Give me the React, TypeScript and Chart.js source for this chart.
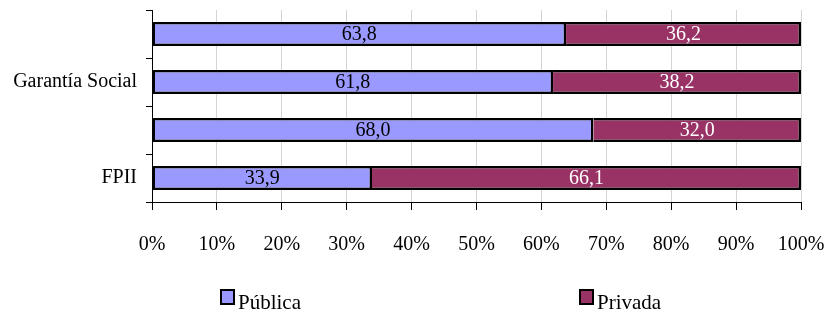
import React, { useEffect, useRef } from "react";
import { Chart, registerables } from "chart.js";

Chart.register(...registerables);

const categories = ["", "Garantía Social", "", "FPII"];
const publica = [63.8, 61.8, 68.0, 33.9];
const privada = [36.2, 38.2, 32.0, 66.1];
const seriesNames = ["Pública", "Privada"];
const seriesColors = ["#9999FF", "#993366"];
const labelColors = ["#000000", "#FFFFFF"];

const FONT = "'Liberation Serif', 'Times New Roman', serif";

const dataLabelPlugin = {
  id: "dataLabels",
  afterDatasetsDraw(chart: any) {
    const ctx = chart.ctx;
    ctx.save();
    ctx.font = `20px ${FONT}`;
    ctx.textAlign = "center";
    ctx.textBaseline = "middle";
    chart.data.datasets.forEach((ds: any, di: number) => {
      const meta = chart.getDatasetMeta(di);
      meta.data.forEach((el: any, i: number) => {
        const v = ds.data[i] as number;
        const txt = v.toFixed(1).replace(".", ",");
        ctx.fillStyle = labelColors[di];
        ctx.fillText(txt, (el.x + el.base) / 2, el.y + 1);
      });
    });
    ctx.restore();
  },
};

const customLegendPlugin = {
  id: "customLegend",
  afterDraw(chart: any) {
    const ctx = chart.ctx;
    const xs = [0.2666, 0.6996];
    const y = 297;
    ctx.save();
    ctx.font = `21px ${FONT}`;
    ctx.textBaseline = "middle";
    ctx.textAlign = "left";
    seriesNames.forEach((name, i) => {
      const x = Math.round(chart.width * xs[i]);
      ctx.fillStyle = seriesColors[i];
      ctx.fillRect(x, y - 7, 13, 14);
      ctx.strokeStyle = "#000";
      ctx.lineWidth = 2;
      ctx.strokeRect(x, y - 7, 13, 14);
      ctx.fillStyle = "#000";
      ctx.fillText(name, x + 17, y + 6);
    });
    ctx.restore();
  },
};

export default function App() {
  const ref = useRef<HTMLCanvasElement | null>(null);
  useEffect(() => {
    document.body.style.margin = "0";
    if (!ref.current) return;
    Chart.defaults.color = "#000";
    const chart = new Chart(ref.current, {
      type: "bar",
      data: {
        labels: categories,
        datasets: [
          {
            label: seriesNames[0],
            data: publica,
            backgroundColor: seriesColors[0],
            borderColor: "#000",
            borderWidth: 2.5,
            borderSkipped: false,
            categoryPercentage: 0.5,
            barPercentage: 1,
          },
          {
            label: seriesNames[1],
            data: privada,
            backgroundColor: seriesColors[1],
            borderColor: "#000",
            borderWidth: 2.5,
            borderSkipped: "start",
            categoryPercentage: 0.5,
            barPercentage: 1,
          },
        ],
      },
      options: {
        indexAxis: "y",
        animation: false,
        responsive: false,
        maintainAspectRatio: false,
        layout: { padding: { top: 10, right: 28, bottom: 0, left: 0 } },
        plugins: {
          legend: { display: false },
          tooltip: { enabled: false },
        },
        scales: {
          x: {
            stacked: true,
            min: 0,
            max: 100,
            ticks: {
              stepSize: 10,
              callback: (v: any) => `${v}%`,
              font: { family: FONT, size: 20 },
              color: "#000",
              padding: 23,
              maxRotation: 0,
              autoSkip: false,
            },
            grid: {
              color: "#d4d4d4",
              tickColor: "#000",
              tickLength: 8,
              lineWidth: 1,
            },
            border: { color: "#000", width: 1 },
            afterFit: (scale: any) => {
              scale.height = 116;
              scale.paddingLeft = 0;
              scale.paddingRight = 0;
            },
          },
          y: {
            stacked: true,
            ticks: {
              font: { family: FONT, size: 20 },
              color: "#000",
              padding: 9,
              autoSkip: false,
            },
            grid: {
              offset: true,
              drawOnChartArea: false,
              tickColor: "#000",
              tickLength: 6,
            },
            border: { color: "#000", width: 1 },
            afterFit: (scale: any) => {
              scale.width = 152;
              scale.paddingTop = 0;
              scale.paddingBottom = 0;
            },
          },
        },
      },
      plugins: [dataLabelPlugin, customLegendPlugin],
    });
    return () => chart.destroy();
  }, []);
  return (
    <div style={{ width: 829, height: 318 }}>
      <canvas ref={ref} width={829} height={318} style={{ display: "block" }} />
    </div>
  );
}
